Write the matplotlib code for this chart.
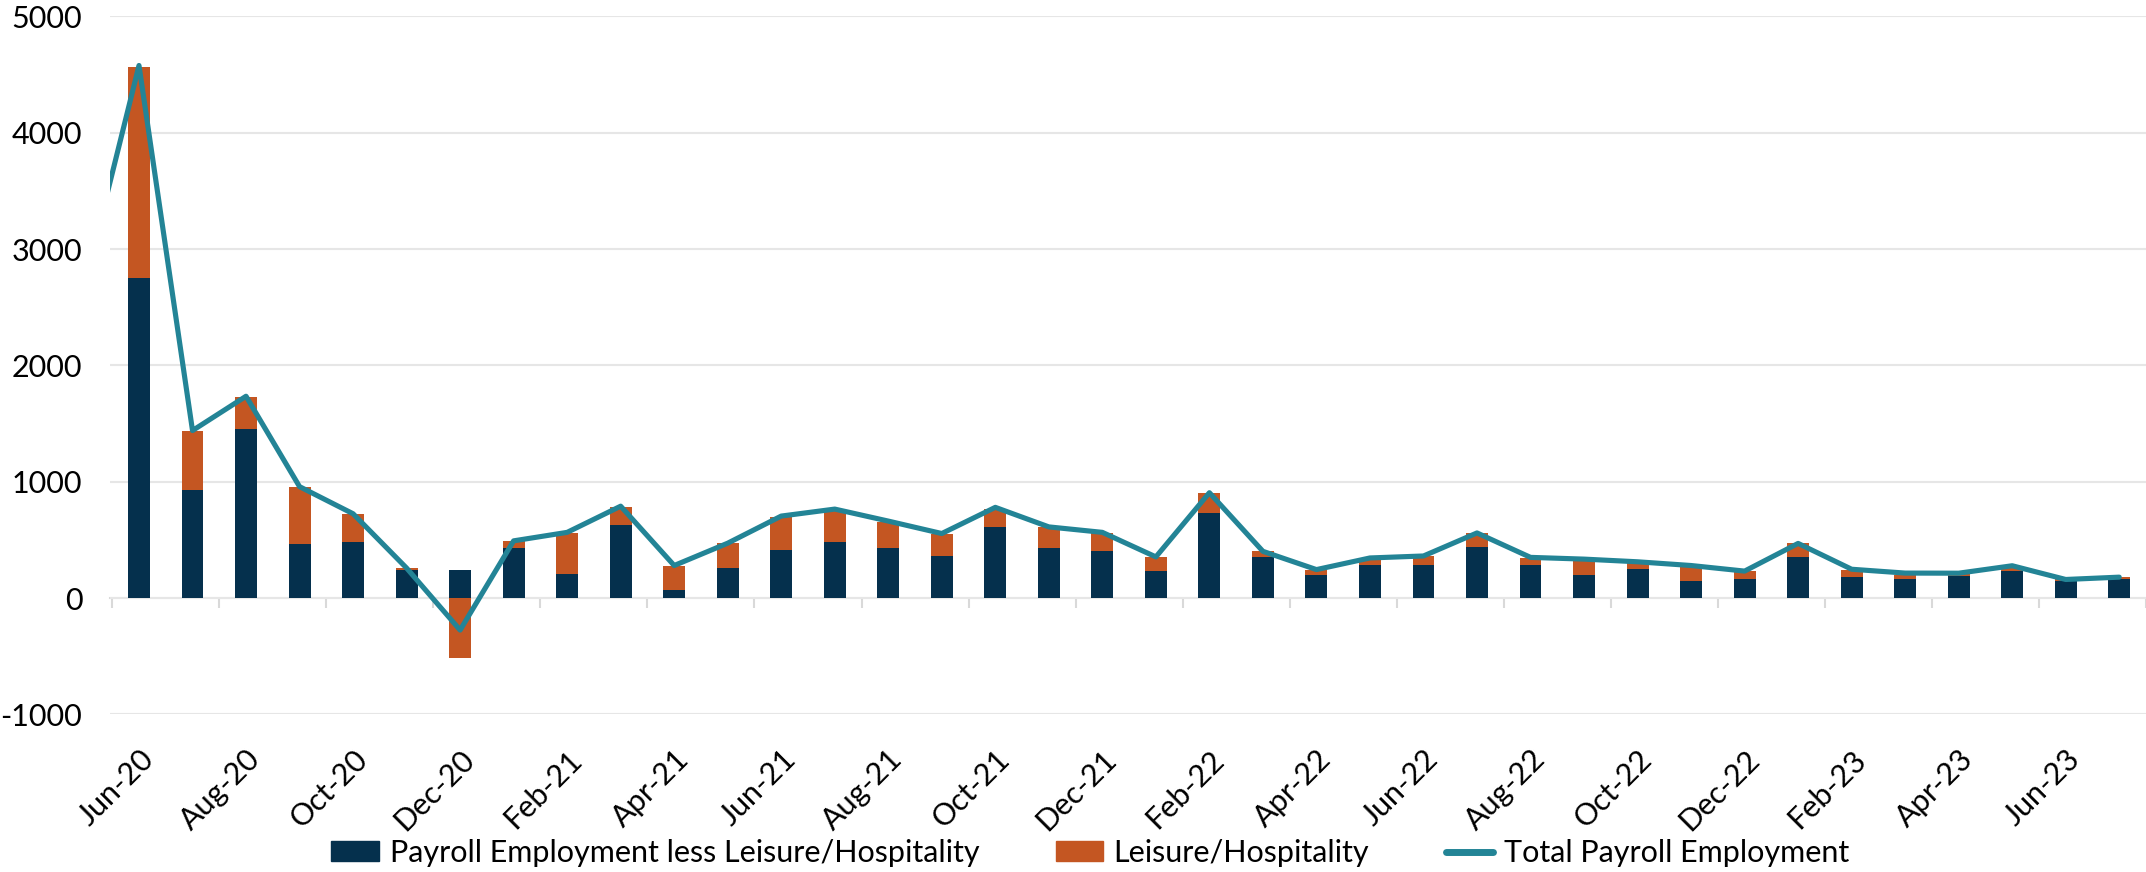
import numpy as np
import matplotlib
matplotlib.use('Agg')
import matplotlib.pyplot as plt
from matplotlib.patches import Patch
from matplotlib.lines import Line2D

plt.rcParams['font.family'] = ['Lato', 'DejaVu Sans']
plt.rcParams['axes.unicode_minus'] = False

# monthly payroll change, thousands
months = ['Jun-20', 'Jul-20', 'Aug-20', 'Sep-20', 'Oct-20', 'Nov-20', 'Dec-20',
          'Jan-21', 'Feb-21', 'Mar-21', 'Apr-21', 'May-21', 'Jun-21', 'Jul-21',
          'Aug-21', 'Sep-21', 'Oct-21', 'Nov-21', 'Dec-21', 'Jan-22', 'Feb-22',
          'Mar-22', 'Apr-22', 'May-22', 'Jun-22', 'Jul-22', 'Aug-22', 'Sep-22',
          'Oct-22', 'Nov-22', 'Dec-22', 'Jan-23', 'Feb-23', 'Mar-23', 'Apr-23',
          'May-23', 'Jun-23', 'Jul-23']

ex_leisure = [2755, 925, 1455, 463, 480, 240, 240,
              427, 204, 631, 68, 256, 410, 478,
              427, 358, 614, 427, 408, 235, 732,
              355, 200, 286, 286, 440, 286, 200,
              252, 149, 166, 355, 183, 166, 189,
              235, 149, 166]

leisure = [1813, 513, 276, 495, 240, 18, -515,
           67, 358, 156, 208, 219, 290, 282,
           228, 192, 156, 183, 152, 120, 173,
           49, 40, 49, 74, 120, 59, 125,
           53, 116, 69, 115, 57, 34, 16,
           25, 14, 17]

# total series starts one month earlier (May-20)
total = [2725, 4578, 1440, 1735, 958, 725, 258, -275,
         492, 565, 790, 280, 472, 705, 765,
         662, 555, 780, 612, 565, 354, 906,
         402, 245, 345, 362, 560, 350, 335,
         312, 280, 232, 470, 248, 215, 214,
         278, 160, 180]

NAVY = '#05304D'
ORANGE = '#C45622'
TEAL = '#238496'

x = np.arange(len(months))
x_total = np.arange(-1, len(months))
navy = np.array(ex_leisure)
lh = np.array(leisure)

fig = plt.figure(figsize=(21.46, 8.72), dpi=100)
ax = fig.add_axes([0.0513, 0.1807, 0.9487, 0.8005])

w = 0.41
ax.bar(x, navy, width=w, color=NAVY, zorder=2)
ax.bar(x, lh, width=w, bottom=np.where(lh >= 0, navy, 0), color=ORANGE, zorder=2)
ax.plot(x_total, total, color=TEAL, lw=3.7, solid_joinstyle='round',
        solid_capstyle='round', zorder=4)

ax.set_xlim(-0.54, 37.5)
ax.set_ylim(-1000, 5000)
ax.set_yticks(range(-1000, 5001, 1000))
ax.grid(axis='y', color='#e6e6e6', lw=1.5, zorder=0)
ax.set_axisbelow(True)
for s in ax.spines.values():
    s.set_visible(False)

ax.set_xticks(x[::2])
ax.set_xticklabels(months[::2], rotation=45, ha='right', rotation_mode='anchor')
ax.tick_params(axis='x', length=0, pad=22, labelsize=22)
ax.tick_params(axis='y', length=0, pad=20, labelsize=22)

# category axis line and tick marks sitting on the zero line
zero_pos = 1000 / 6000
sec = ax.secondary_xaxis(zero_pos)
sec.set_xticks(np.arange(-0.5, 38, 2))
sec.set_xticklabels([])
sec.tick_params(axis='x', direction='out', length=7, width=1.5, color='#d9d9d9')
for s in sec.spines.values():
    s.set_color('#d9d9d9')
    s.set_linewidth(1.5)

handles = [Patch(color=NAVY), Patch(color=ORANGE),
           Line2D([], [], color=TEAL, lw=5, solid_capstyle='round')]
labels = ['Payroll Employment less Leisure/Hospitality', 'Leisure/Hospitality',
          'Total Payroll Employment']
fig.legend(handles, labels, loc='center', bbox_to_anchor=(0.508, 0.022), ncol=3,
           frameon=False, fontsize=22, handlelength=1.55, handleheight=0.6,
           handletextpad=0.35, columnspacing=2.5)

fig.savefig('out.png', dpi=100)
